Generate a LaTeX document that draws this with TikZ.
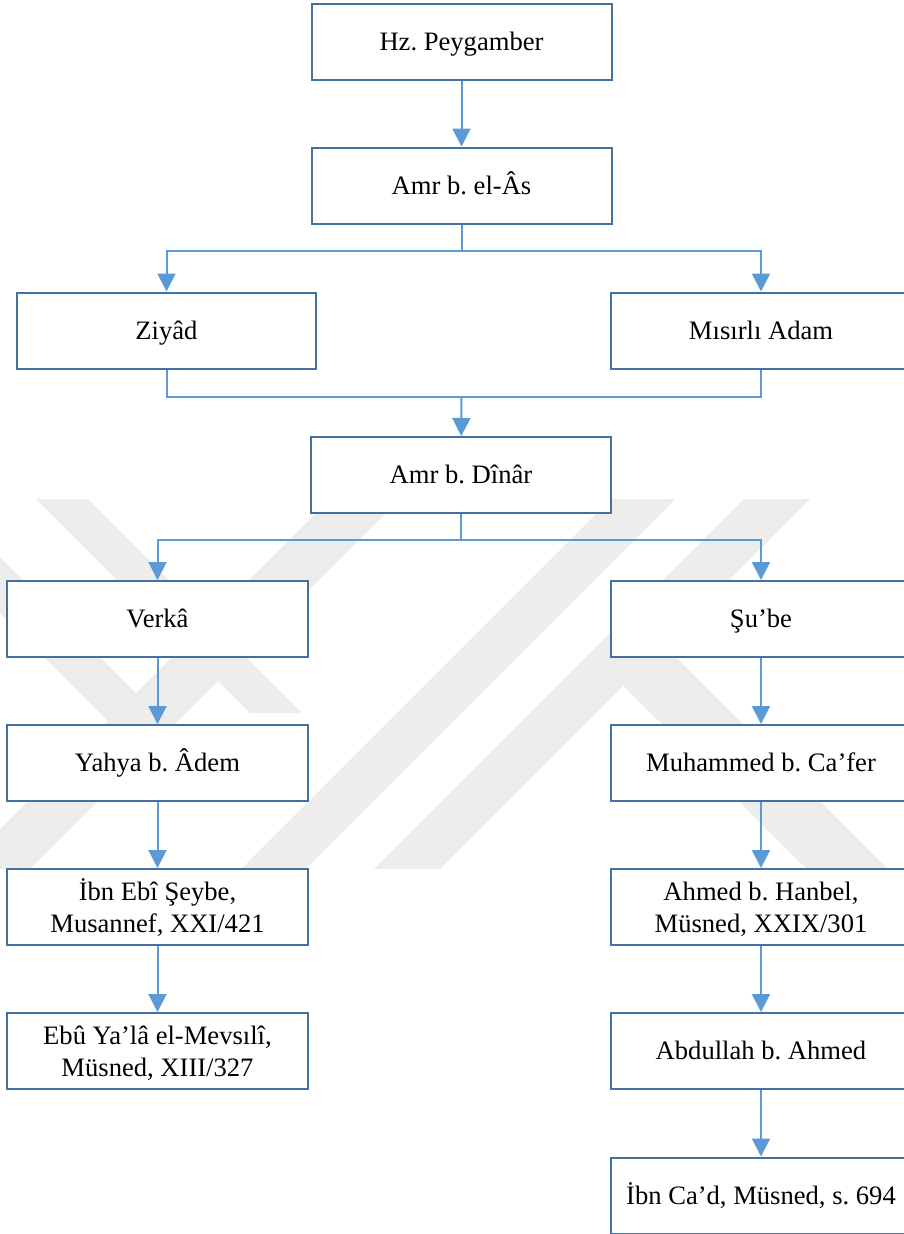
\documentclass[tikz,border=0pt]{standalone}
\usepackage{fontspec}
\setmainfont{Liberation Serif}
\usetikzlibrary{arrows.meta}
\definecolor{boxblue}{HTML}{41719C}
\definecolor{linkblue}{HTML}{5B9BD5}
\definecolor{wm}{RGB}{237,237,237}
\frenchspacing
\begin{document}
\begin{tikzpicture}[x=1bp,y=-1bp,
  box/.style={draw=boxblue, line width=2bp, fill=white, minimum width=300bp, minimum height=76bp, inner sep=0pt, align=center, font=\fontsize{26.6bp}{31.7bp}\selectfont\frenchspacing, text height=17.6bp, text depth=0bp},
  twoline/.style={text height=50bp, text depth=0bp},
  link/.style={draw=linkblue, line width=2bp},
  arr/.style={link, -{Triangle[width=18bp,length=18bp]}},
  wmark/.style={fill=wm, draw=none}]
\clip (0,0) rectangle (904,1234);
\fill[white] (0,0) rectangle (904,1234);
% watermark
\path[wmark] (36,499) -- (88,499) -- (302,713) -- (250,713) -- cycle;
\path[wmark] (0,557) -- (168,725) -- (112,725) -- (0,613) -- cycle;
\path[wmark] (330,499) -- (400,499) -- (30,869) -- (-40,869) -- cycle;
\path[wmark] (611,499) -- (675,499) -- (305,869) -- (241,869) -- cycle;
\path[wmark] (744,499) -- (810,499) -- (440,869) -- (374,869) -- cycle;
\path[wmark] (647.5,628.5) -- (888,869) -- (807,869) -- (607,669) -- cycle;
% nodes
\node[box] (hz) at (461.5,42) {Hz. Peygamber};
\node[box] (amr) at (461.5,185.5) {Amr b. el-Âs};
\node[box, minimum width=299bp] (ziyad) at (166.5,330.5) {Ziyâd};
\node[box] (misirli) at (761,330.5) {Mısırlı Adam};
\node[box] (dinar) at (461,475) {Amr b. Dînâr};
\node[box] (verka) at (157.5,619) {Verkâ};
\node[box] (sube) at (761,619) {Şu’be};
\node[box] (yahya) at (157.5,763) {Yahya b. Âdem};
\node[box] (muhammed) at (761,763) {Muhammed b. Ca’fer};
\node[box, twoline] (ibnebi) at (157.5,907) {İbn Ebî Şeybe,\\Musannef, XXI/421};
\node[box, twoline] (ahmed) at (761,907) {Ahmed b. Hanbel,\\Müsned, XXIX/301};
\node[box, twoline] (ebuyala) at (157.5,1051) {Ebû Ya’lâ el-Mevsılî,\\Müsned, XIII/327};
\node[box] (abdullah) at (761,1051) {Abdullah b. Ahmed};
\node[box] (ibncad) at (761,1195.5) {İbn Ca’d, Müsned, s. 694};
% connectors
\coordinate (j1) at (461.5,251);
\coordinate (j2) at (461.5,397);
\coordinate (j3) at (461,540);
\draw[arr] (hz) -- (amr);
\draw[link] (amr) -- (j1);
\draw[arr] (j1) -| (ziyad);
\draw[arr] (j1) -| (misirli);
\draw[link] (ziyad) |- (j2);
\draw[link] (misirli) |- (j2);
\draw[arr] (j2) -- (dinar);
\draw[link] (dinar) -- (j3);
\draw[arr] (j3) -| (verka);
\draw[arr] (j3) -| (sube);
\draw[arr] (verka) -- (yahya);
\draw[arr] (yahya) -- (ibnebi);
\draw[arr] (ibnebi) -- (ebuyala);
\draw[arr] (sube) -- (muhammed);
\draw[arr] (muhammed) -- (ahmed);
\draw[arr] (ahmed) -- (abdullah);
\draw[arr] (abdullah) -- (ibncad);
\end{tikzpicture}
\end{document}
